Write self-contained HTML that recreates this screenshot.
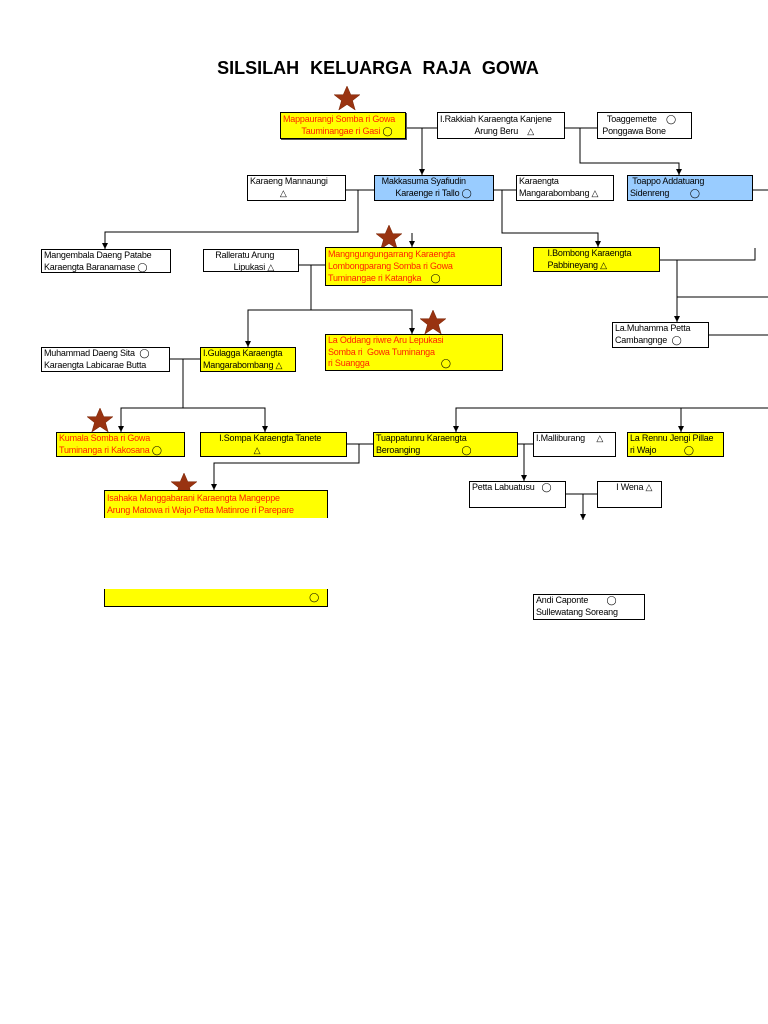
<!DOCTYPE html>
<html><head><meta charset="utf-8">
<style>
body{margin:0;width:768px;height:1024px;background:#fff;position:relative;overflow:hidden;font-family:"Liberation Sans Narrow","Liberation Sans",sans-serif;}
.b{position:absolute;border:1px solid #000;box-sizing:border-box;font-size:9px;line-height:11.5px;color:#000;padding:0 2px;white-space:nowrap;overflow:hidden;letter-spacing:-0.2px}
.y{background:#ffff00}.bl{background:#99ccff}.r{color:#ff2200}
.sh{box-shadow:1px 1px 0 #555}
h1{position:absolute;left:0;width:756px;top:58px;margin:0;text-align:center;font:bold 18px "Liberation Sans",sans-serif;word-spacing:6px}
svg{position:absolute;left:0;top:0}
</style></head><body>
<h1>SILSILAH KELUARGA RAJA GOWA</h1>
<svg width="768" height="1024">
<defs>
<marker id="d" markerWidth="6" markerHeight="6" refX="3" refY="6" markerUnits="userSpaceOnUse"><path d="M0,0 L6,0 L3,6z" fill="#000"/></marker>
<g id="s"><polygon points="0,-13 3.8,-4.3 13,-4.3 5.5,1.6 8.2,11 0,5.5 -8.2,11 -5.5,1.6 -13,-4.3 -3.8,-4.3" fill="#993311" stroke="#772200" stroke-width=".5"/></g></defs>
<g stroke="#000" stroke-width="1" fill="none">
<path d="M405 128H437M422 128V175" marker-end="url(#d)"/>
<path d="M564 128H597M580 128V163H679V175" marker-end="url(#d)"/>
<path d="M752 190H768"/>
<path d="M346 190H374M358 190V232H105V249" marker-end="url(#d)"/>
<path d="M493 190H516M502 190V233H598V247" marker-end="url(#d)"/>
<path d="M412 233V247" marker-end="url(#d)"/>
<path d="M299 265H325M311 265V310H248V347" marker-end="url(#d)"/>
<path d="M311 310H412V334" marker-end="url(#d)"/>
<path d="M659 260H755V248"/>
<path d="M677 260V322" marker-end="url(#d)"/>
<path d="M677 297H768"/>
<path d="M708 335H768"/>
<path d="M169 359H200M183 359V408H121V432" marker-end="url(#d)"/>
<path d="M183 408H265V432" marker-end="url(#d)"/>
<path d="M346 444H373M359 444V463H214V490" marker-end="url(#d)"/>
<path d="M768 408H456V432" marker-end="url(#d)"/>
<path d="M681 408V432" marker-end="url(#d)"/>
<path d="M517 444H533M524 444V481" marker-end="url(#d)"/>
<path d="M565 494H597M583 494V520" marker-end="url(#d)"/>
</g>
<use href="#s" x="347" y="99"/>
<use href="#s" x="389" y="238"/>
<use href="#s" x="433" y="323"/>
<use href="#s" x="100" y="421"/>
<use href="#s" x="184" y="486"/>
</svg>

<div class="b y sh r" style="left:280px;top:112px;width:126px;height:27px;padding-top:1px">Mappaurangi Somba ri Gowa<br>&nbsp;&nbsp;&nbsp;&nbsp;&nbsp;&nbsp;&nbsp;&nbsp;Tauminangae ri Gasi <span style="color:#000">◯</span></div>
<div class="b" style="left:437px;top:112px;width:128px;height:27px;padding-top:1px">I.Rakkiah Karaengta Kanjene<br>&nbsp;&nbsp;&nbsp;&nbsp;&nbsp;&nbsp;&nbsp;&nbsp;&nbsp;&nbsp;&nbsp;&nbsp;&nbsp;&nbsp;&nbsp;Arung Beru &nbsp;&nbsp;&nbsp;△</div>
<div class="b" style="left:597px;top:112px;width:95px;height:27px;padding-top:1px">&nbsp;&nbsp;&nbsp;Toaggemette &nbsp;&nbsp;&nbsp;◯<br>&nbsp;Ponggawa Bone</div>
<div class="b" style="left:247px;top:175px;width:99px;height:26px">Karaeng Mannaungi<br>&nbsp;&nbsp;&nbsp;&nbsp;&nbsp;&nbsp;&nbsp;&nbsp;&nbsp;&nbsp;&nbsp;&nbsp;&nbsp;△</div>
<div class="b bl" style="left:374px;top:175px;width:120px;height:26px">&nbsp;&nbsp;Makkasuma Syafiudin<br>&nbsp;&nbsp;&nbsp;&nbsp;&nbsp;&nbsp;&nbsp;&nbsp;Karaenge ri Tallo ◯</div>
<div class="b" style="left:516px;top:175px;width:98px;height:26px">Karaengta<br>Mangarabombang △</div>
<div class="b bl" style="left:627px;top:175px;width:126px;height:26px">&nbsp;Toappo Addatuang<br>Sidenreng &nbsp;&nbsp;&nbsp;&nbsp;&nbsp;&nbsp;&nbsp;&nbsp;◯</div>
<div class="b" style="left:41px;top:249px;width:130px;height:24px">Mangembala Daeng Patabe<br>Karaengta Baranamase ◯</div>
<div class="b" style="left:203px;top:249px;width:96px;height:23px">&nbsp;&nbsp;&nbsp;&nbsp;Ralleratu Arung<br>&nbsp;&nbsp;&nbsp;&nbsp;&nbsp;&nbsp;&nbsp;&nbsp;&nbsp;&nbsp;&nbsp;&nbsp;Lipukasi △</div>
<div class="b y r" style="left:325px;top:247px;width:177px;height:39px;line-height:12px">Mangngungungarrang Karaengta<br>Lombongparang Somba ri Gowa<br>Tuminangae ri Katangka &nbsp;&nbsp;&nbsp;<span style="color:#000">◯</span></div>
<div class="b y" style="left:533px;top:247px;width:127px;height:25px">&nbsp;&nbsp;&nbsp;&nbsp;&nbsp;I.Bombong Karaengta<br>&nbsp;&nbsp;&nbsp;&nbsp;&nbsp;Pabbineyang △</div>
<div class="b" style="left:612px;top:322px;width:97px;height:26px">La.Muhamma Petta<br>Cambangnge &nbsp;◯</div>
<div class="b" style="left:41px;top:347px;width:129px;height:25px">Muhammad Daeng Sita &nbsp;◯<br>Karaengta Labicarae Butta</div>
<div class="b y" style="left:200px;top:347px;width:96px;height:25px">I.Gulagga Karaengta<br>Mangarabombang △</div>
<div class="b y r" style="left:325px;top:334px;width:178px;height:37px">La Oddang riwre Aru Lepukasi<br>Somba ri &nbsp;Gowa Tuminanga<br>ri Suangga &nbsp;&nbsp;&nbsp;&nbsp;&nbsp;&nbsp;&nbsp;&nbsp;&nbsp;&nbsp;&nbsp;&nbsp;&nbsp;&nbsp;&nbsp;&nbsp;&nbsp;&nbsp;&nbsp;&nbsp;&nbsp;&nbsp;&nbsp;&nbsp;&nbsp;&nbsp;&nbsp;&nbsp;&nbsp;&nbsp;<span style="color:#000">◯</span></div>
<div class="b y r" style="left:56px;top:432px;width:129px;height:25px">Kumala Somba ri Gowa<br>Tuminanga ri Kakosana <span style="color:#000">◯</span></div>
<div class="b y" style="left:200px;top:432px;width:147px;height:25px">&nbsp;&nbsp;&nbsp;&nbsp;&nbsp;&nbsp;&nbsp;I.Sompa Karaengta Tanete<br>&nbsp;&nbsp;&nbsp;&nbsp;&nbsp;&nbsp;&nbsp;&nbsp;&nbsp;&nbsp;&nbsp;&nbsp;&nbsp;&nbsp;&nbsp;&nbsp;&nbsp;&nbsp;&nbsp;&nbsp;&nbsp;&nbsp;△</div>
<div class="b y" style="left:373px;top:432px;width:145px;height:25px">Tuappatunru Karaengta<br>Beroanging &nbsp;&nbsp;&nbsp;&nbsp;&nbsp;&nbsp;&nbsp;&nbsp;&nbsp;&nbsp;&nbsp;&nbsp;&nbsp;&nbsp;&nbsp;&nbsp;&nbsp;◯</div>
<div class="b" style="left:533px;top:432px;width:83px;height:25px">I.Malliburang &nbsp;&nbsp;&nbsp;&nbsp;△</div>
<div class="b y" style="left:627px;top:432px;width:97px;height:25px">La Rennu Jengi Pillae<br>ri Wajo &nbsp;&nbsp;&nbsp;&nbsp;&nbsp;&nbsp;&nbsp;&nbsp;&nbsp;&nbsp;&nbsp;◯</div>
<div class="b" style="left:469px;top:481px;width:97px;height:27px">Petta Labuatusu &nbsp;&nbsp;◯</div>
<div class="b" style="left:597px;top:481px;width:65px;height:27px">&nbsp;&nbsp;&nbsp;&nbsp;&nbsp;&nbsp;&nbsp;I Wena △</div>
<div class="b y r" style="left:104px;top:490px;width:224px;height:28px;border-bottom:none;line-height:12px;padding-top:1px">Isahaka Manggabarani Karaengta Mangeppe<br>Arung Matowa ri Wajo Petta Matinroe ri Parepare</div>
<div class="b y" style="left:104px;top:589px;width:224px;height:18px;border-top:none;text-align:right;padding-right:8px;line-height:16px">◯</div>
<div class="b" style="left:533px;top:594px;width:112px;height:26px">Andi Caponte &nbsp;&nbsp;&nbsp;&nbsp;&nbsp;&nbsp;&nbsp;◯<br>Sullewatang Soreang</div>
</body></html>
